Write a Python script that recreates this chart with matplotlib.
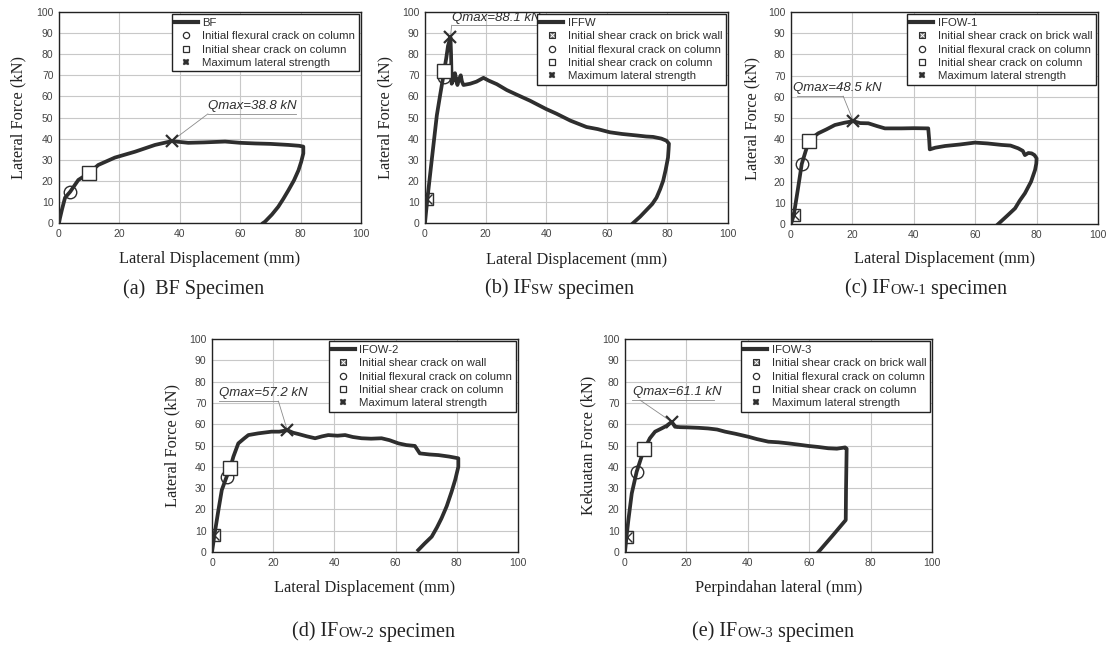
"""Five lateral force vs displacement curves (BF, IFsw, IFow-1..3) in one figure."""

import matplotlib

matplotlib.use("Agg")
import matplotlib.pyplot as plt  # noqa: E402
from matplotlib.lines import Line2D  # noqa: E402

W, H = 1109, 646
INK = "#2e2e2e"
GRID = "#c8c8c8"
LEADER = "#8a8a8a"
SANS = "Liberation Sans"
SERIF = "Liberation Serif"

# ---- data ------------------------------------------------------------------
BF_X = [0, 0.3, 1.0, 2.0, 3.7, 6.4, 9.8, 13.0, 18.5, 25.2, 31.8, 37.3, 42.8, 48,
        55, 60, 65, 70, 76, 79.5, 80.9, 80.9, 80.2, 79.3, 77.8, 76.0, 74.3,
        72.6, 70.5, 68.2, 67.6]
BF_Y = [0, 2.2, 6.5, 12.0, 14.8, 20.4, 23.5, 27.5, 31.0, 33.8, 37.0, 38.8, 38.0,
        38.2, 38.6, 38.0, 37.7, 37.5, 37.0, 36.6, 36.2, 33.0, 29, 25.0, 20.2,
        15.6, 11.5, 7.7, 4, 0.6, 0]

FW_X = [0, 0.4, 0.8, 2.0, 3.9, 5.0, 6.0, 6.3, 7.0, 7.6, 8.4, 8.6, 8.8, 9.3, 9.9,
        10.3, 10.7, 11.2, 11.8, 12.2, 12.7, 14.9, 17, 19.3, 21, 23.7, 27, 30,
        34.6, 40, 43.4, 48, 53.3, 57, 61, 65, 69.8, 73, 75.3, 78, 79.7, 80.5,
        80.4, 80.2, 79.4, 78.6, 77.6, 76.4, 75, 73, 71, 68.7]
FW_Y = [0, 6.0, 11.5, 27, 51, 60.7, 69.2, 72.0, 78, 84, 88.1, 80, 66, 67.5, 71,
        68, 65.4, 68, 70, 67, 65.4, 66, 67, 68.8, 67.5, 65.8, 63, 61, 58, 54,
        51.8, 48.5, 45.5, 44.5, 43, 42.2, 41.5, 41, 40.8, 40, 39, 37.6, 35, 31,
        25, 20, 16, 12, 9, 6, 3, 0]

O1_X = [0, 0.9, 2.2, 3.5, 4.8, 5.9, 7.5, 8.9, 11.5, 14.3, 17.5, 20.3, 22.5, 25.2,
        28, 30.6, 33, 36, 40, 44.7, 45.0, 45.2, 47, 50.2, 55, 59.9, 64, 68.6,
        71.5, 74, 75.5, 76.2, 77.3, 78.4, 79.3, 80, 79.9, 79.5, 78.2, 76.2,
        74.5, 73, 70.5, 67.5]
O1_Y = [0, 4.2, 16, 28.3, 34.5, 39.3, 41.3, 42.8, 44.6, 46.7, 47.8, 48.5, 47.6,
        47.5, 46.2, 45.1, 45.1, 45.1, 45.2, 45.1, 40, 35.2, 36, 36.8, 37.5,
        38.4, 38, 37.3, 37, 35.7, 34.5, 32.5, 33.5, 33.3, 32.5, 31, 28.5, 25.5,
        20, 14.5, 11, 7.4, 4, 0]

O2_X = [0, 0.8, 2.1, 3.2, 4.8, 5.9, 7.0, 8.6, 10.5, 11.9, 15.1, 19.5, 22, 24.6,
        26.5, 28.2, 31, 33.7, 36, 38, 41, 43.5, 46, 48.9, 52, 55.4, 58, 60.9,
        63.5, 66.3, 67.9, 71, 74, 77.5, 80.5, 80.5, 79.5, 78.3, 76.7, 75, 73.5,
        71.8, 69.5, 67.4]
O2_Y = [0, 8, 19.7, 29.1, 35.4, 39.3, 44.8, 51, 53.3, 54.9, 55.7, 56.5, 56.5,
        57.2, 56, 55.4, 54.3, 53.4, 54.3, 54.9, 54.6, 54.9, 54, 53.4, 53.2,
        53.4, 52.5, 51, 50.2, 49.8, 46.3, 45.8, 45.5, 44.8, 44, 40, 34, 28.3,
        21.5, 15.8, 11.5, 7.2, 4, 0.9]

O3_X = [0, 0.5, 1.1, 2.2, 3.8, 5.4, 6.3, 8.1, 9.8, 11.9, 13.5, 15.2, 16.3, 18,
        20.6, 24, 27.1, 30, 32.6, 36, 40.2, 43, 46.7, 50, 53.2, 56, 59.7, 63,
        66.2, 69, 71.7, 72.2, 72.0, 71.9, 67.5, 63.0]
O3_Y = [0, 7.2, 15, 27.5, 37.7, 44.8, 48.2, 53.4, 56.5, 58, 59.2, 61.1, 58.8,
        58.6, 58.5, 58.3, 58, 57.5, 56.5, 55.5, 54.1, 53, 51.8, 51.5, 51, 50.5,
        49.8, 49.3, 48.7, 48.5, 49.1, 48.5, 30, 15, 7.5, 0]

# event points: (x, y) or None
WALL_CRACK = [None, (0.8, 11.5), (0.9, 4.2), (0.8, 8), (0.5, 7.2)]
FLEX_CRACK = [(3.7, 14.8), (6.3, 69.2), (3.5, 28.3), (4.8, 35.4), (3.8, 37.7)]
SHEAR_CRACK = [(9.8, 23.5), (6.3, 72.0), (5.9, 39.3), (5.9, 39.3), (6.3, 48.2)]
Q_MAX = [(37.3, 38.8), (8.4, 88.1), (20.3, 48.5), (24.6, 57.2), (15.2, 61.1)]

NAMES = ["BF", "IFFW", "IFOW-1", "IFOW-2", "IFOW-3"]
WALL_LABELS = [None, "Initial shear crack on brick wall",
               "Initial shear crack on brick wall", "Initial shear crack on wall",
               "Initial shear crack on brick wall"]
X_LABELS = ["Lateral Displacement (mm)"] * 4 + ["Perpindahan lateral (mm)"]
Y_LABELS = ["Lateral Force (kN)"] * 4 + ["Kekuatan Force (kN)"]
# caption pieces: (text, small?)
CAPTIONS = [
    [("(a)  BF Specimen", False)],
    [("(b) IF", False), ("SW", True), (" specimen", False)],
    [("(c) IF", False), ("OW-1", True), (" specimen", False)],
    [("(d) IF", False), ("OW-2", True), (" specimen", False)],
    [("(e) IF", False), ("OW-3", True), (" specimen", False)],
]
# Qmax label: text anchor, underline (x0, x1, y), leader start x
Q_TEXT = [(49.3, 52.6), (8.8, 94.2), (0.8, 61.4), (2.2, 71.9), (2.7, 72.4)]
Q_LINE = [(49.3, 78.5, 51.7), (8.8, 40.0, 93.7), (2.0, 17.0, 60.3),
          (2.2, 21.7, 70.8), (2.2, 29.0, 71.3)]
Q_LEAD = [49.3, 8.8, 17.0, 21.7, 4.9]

SERIES = [(BF_X, BF_Y), (FW_X, FW_Y), (O1_X, O1_Y), (O2_X, O2_Y), (O3_X, O3_Y)]

# ---- layout (pixels in the 1109x646 canvas) -------------------------------
AX_BOX = [(59, 12, 361, 223), (425, 12, 728, 223), (791, 12, 1098, 224),
          (212, 339, 518, 552), (625, 339, 932, 552)]
YLAB_X = [18, 385, 752, 172, 588]
XLAB_Y = [259, 260, 259, 588, 588]
CAP_POS = [(123, 289), (485, 289), (845, 289), (292, 632), (692, 632)]


def px(x, y):
    return x / W, 1 - y / H


def legend_handles(i):
    line = Line2D([], [], color=INK, lw=3)
    wall = (Line2D([], [], ls="", marker="s", ms=4.5, mfc="#666", mec=INK, mew=0.8),
            Line2D([], [], ls="", marker="x", ms=3.5, mec="white", mew=0.7))
    flex = Line2D([], [], ls="", marker="o", ms=4.5, mfc="white", mec=INK, mew=0.9)
    shear = Line2D([], [], ls="", marker="s", ms=4.5, mfc="white", mec=INK, mew=0.9)
    qmax = Line2D([], [], ls="", marker="X", ms=4.5, mfc=INK, mec=INK, mew=0.3)
    handles = [line, flex, shear, qmax]
    labels = [NAMES[i], "Initial flexural crack on column",
              "Initial shear crack on column", "Maximum lateral strength"]
    if WALL_LABELS[i]:
        handles.insert(1, wall)
        labels.insert(1, WALL_LABELS[i])
    return handles, labels


fig = plt.figure(figsize=(W / 100, H / 100), dpi=100)
fig.patch.set_facecolor("white")

for i, (xs, ys) in enumerate(SERIES):
    x0, y0, x1, y1 = AX_BOX[i]
    ax = fig.add_axes([x0 / W, 1 - y1 / H, (x1 - x0) / W, (y1 - y0) / H])
    ax.set_xlim(0, 100)
    ax.set_ylim(0, 100)
    ax.set_xticks(range(0, 101, 20))
    ax.set_yticks(range(0, 101, 10))
    ax.grid(color=GRID, lw=0.8)
    ax.set_axisbelow(True)
    ax.tick_params(length=0, pad=4, labelsize=7.5, labelcolor="#444")
    for lab in ax.get_xticklabels() + ax.get_yticklabels():
        lab.set_fontfamily(SANS)
    for s in ax.spines.values():
        s.set_color("#222")
        s.set_linewidth(1.0)

    ax.plot(xs, ys, color=INK, lw=2.7, solid_joinstyle="round", zorder=3)

    if WALL_CRACK[i]:
        wx, wy = WALL_CRACK[i]
        ax.plot([wx], [wy], "s", ms=9, mfc="none", mec=INK, mew=1.0, zorder=4)
        ax.plot([wx], [wy], "x", ms=7, mec=INK, mew=1.0, zorder=4)
    fx, fy = FLEX_CRACK[i]
    ax.plot([fx], [fy], "o", ms=9, mfc="none", mec=INK, mew=1.0, zorder=4)
    sx, sy = SHEAR_CRACK[i]
    ax.plot([sx], [sy], "s", ms=10, mfc="white", mec=INK, mew=1.0, zorder=4)
    qx, qy = Q_MAX[i]
    ax.plot([qx], [qy], "x", ms=9, mec=INK, mew=1.6, zorder=5)

    # Qmax annotation: italic label, underline, leader to the peak
    tx, ty = Q_TEXT[i]
    ax.text(tx, ty, f"Qmax={qy:.1f} kN", fontsize=9.5, style="italic",
            family=SANS, color=INK, va="bottom", ha="left", zorder=2)
    lx0, lx1, ly = Q_LINE[i]
    ax.plot([lx0, lx1], [ly, ly], color=LEADER, lw=0.6, zorder=2)
    ax.plot([Q_LEAD[i], qx], [ly, qy], color=LEADER, lw=0.6, zorder=2)

    handles, labels = legend_handles(i)
    leg = ax.legend(handles, labels, loc="upper right",
                    frameon=True, fancybox=False, framealpha=1, edgecolor="#222",
                    borderaxespad=0.2, borderpad=0.3, labelspacing=0.3,
                    handlelength=2.0, handletextpad=0.4,
                    prop={"family": SANS, "size": 8.2})
    leg.get_frame().set_linewidth(1.0)
    leg.set_zorder(6)
    for t in leg.get_texts():
        t.set_color(INK)

    # axis labels
    yc = (y0 + y1) / 2
    fig.text(*px(YLAB_X[i], yc), Y_LABELS[i], rotation=90, ha="center",
             va="center", family=SERIF, fontsize=11.8, color="#222")
    fig.text(*px((x0 + x1) / 2, XLAB_Y[i]), X_LABELS[i], ha="center",
             va="center", family=SERIF, fontsize=11.8, color="#222")

    # caption, with the small-caps specimen suffix; all pieces share the
    # first piece's vertical position
    cx, cy = CAP_POS[i]
    first = prev = None
    for text, small in CAPTIONS[i]:
        size = 10.5 if small else 14.5
        if first is None:
            first = prev = fig.text(*px(cx, cy), text, ha="left", va="center",
                                    family=SERIF, fontsize=size, color="#222")
        else:
            prev = ax.annotate(text, xy=(1, 0), xycoords=(prev, first),
                               xytext=(0, 0.9 if small else 0),
                               textcoords="offset points", ha="left",
                               va="bottom", family=SERIF, fontsize=size,
                               color="#222", annotation_clip=False)

fig.savefig("out.png", dpi=100, facecolor="white")
